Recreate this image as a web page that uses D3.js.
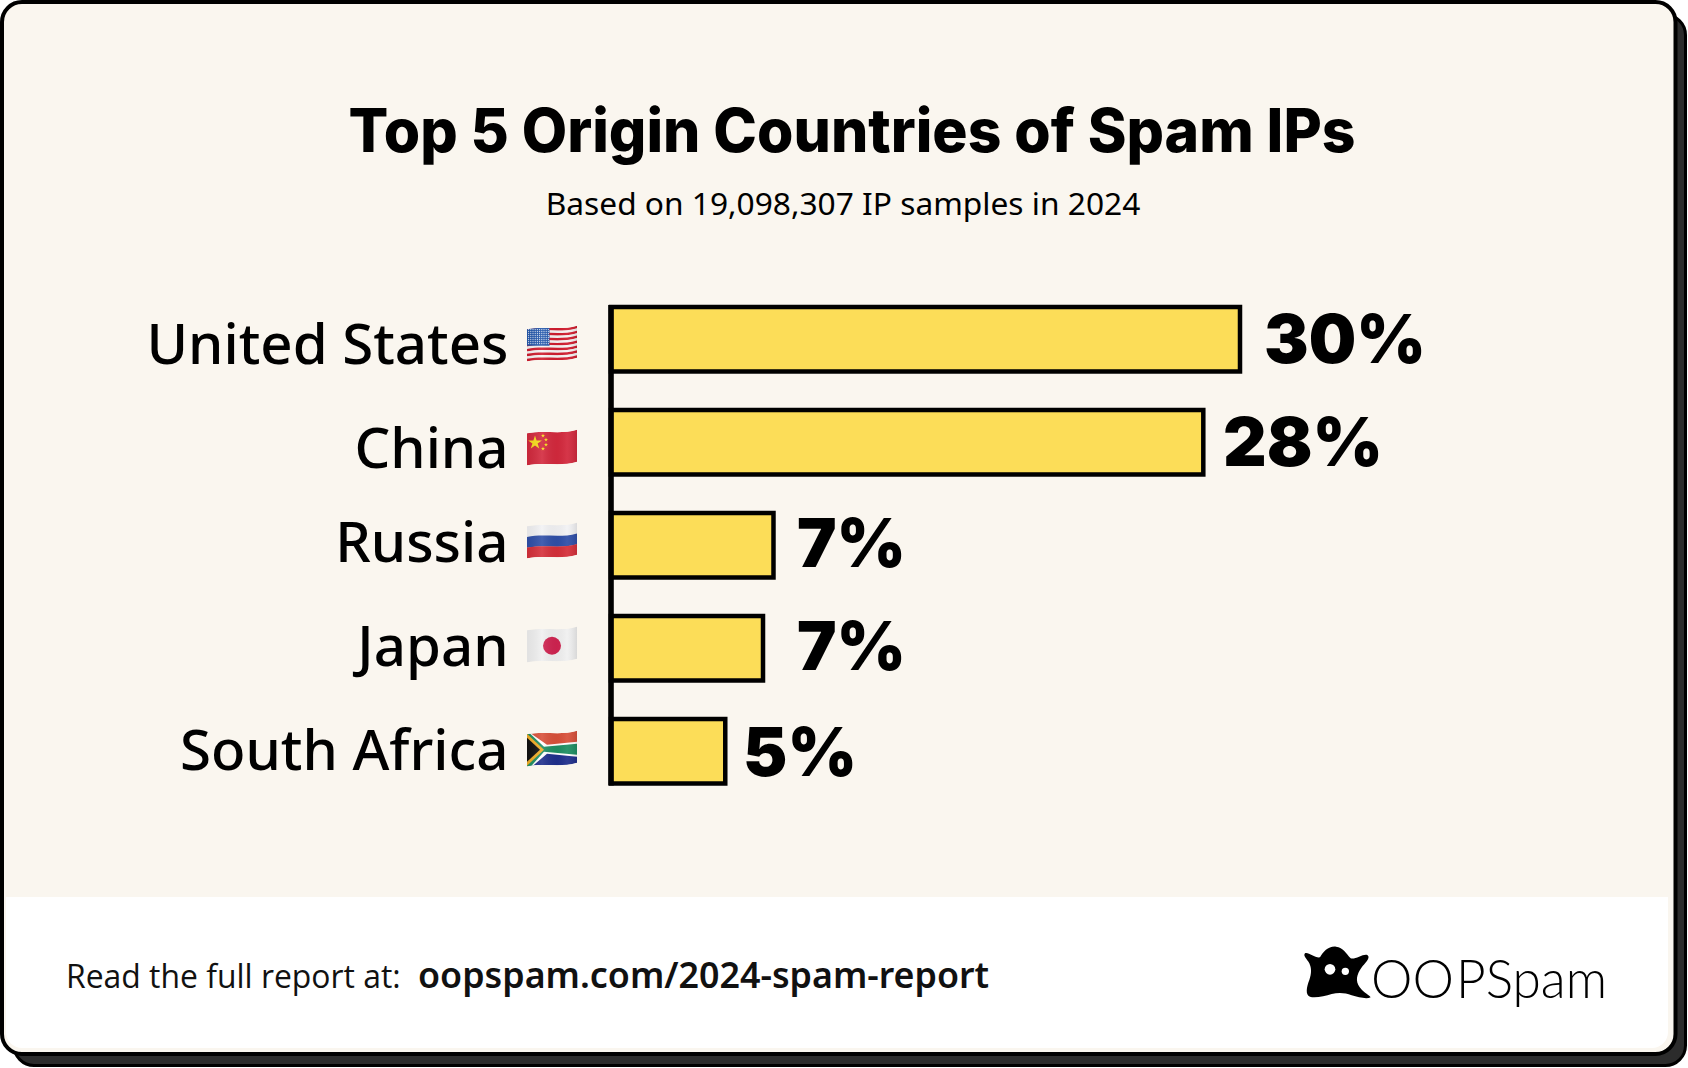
<!DOCTYPE html>
<html>
<head>
<meta charset="utf-8">
<script src="https://cdn.jsdelivr.net/npm/d3@7"></script>
<style>
  html, body { margin: 0; padding: 0; background: #fff; }
  svg { display: block; }
</style>
</head>
<body>
<svg id="chart" width="1688" height="1068"></svg>
<script>
const countries = ["United States", "China", "Russia", "Japan", "South Africa"];
const flagCodes = ["us", "cn", "ru", "jp", "za"];
const shares = [30, 28.25, 7.75, 7.25, 5.45];
const shareLabels = ["30%", "28%", "7%", "7%", "5%"];

const titleText = "Top 5 Origin Countries of Spam IPs";
const subtitleText = "Based on 19,098,307 IP samples in 2024";
const footerText = "Read the full report at:";
const footerLink = "oopspam.com/2024-spam-report";
const logoFirst = "OO";
const logoRest = "PSpam";

// the labels in the original are hand placed, so they need small nudges
const nameDy = [25, 26, 17, 18, 19];
const flagDy = [-13.5, -12.5, -22.5, -21.5, -20.5];
const valueDy = [24, 24, 22, 22, 25];
const valueX = [1264, 1223, 797, 797, 743];
const valueWidth = [162, 160, 109, 109, 114];

const INK = "#000";
const CREAM = "#faf6ef";
const YELLOW = "#fcdd58";

const svg = d3.select("#chart");
const defs = svg.append("defs");

/* card */
svg.append("rect").attr("x", 14).attr("y", 15).attr("width", 1671.5).attr("height", 1050.5)
    .attr("rx", 20).attr("fill", "#2c2c2c").attr("stroke", INK).attr("stroke-width", 3);
svg.append("rect").attr("x", 2).attr("y", 2).attr("width", 1673.5).attr("height", 1052)
    .attr("rx", 20).attr("fill", CREAM).attr("stroke", INK).attr("stroke-width", 4);
svg.append("path")
    .attr("d", "M6,897 H1668 V1032 a16,16 0 0 1 -16,16 H22 a16,16 0 0 1 -16,-16 Z")
    .attr("fill", "#fff");

/* headings */
svg.append("text").attr("x", 852).attr("y", 152)
    .attr("text-anchor", "middle")
    .attr("textLength", 1007).attr("lengthAdjust", "spacingAndGlyphs")
    .style("font", "800 60px Inter").text(titleText);
svg.append("text").attr("x", 843).attr("y", 215)
    .attr("text-anchor", "middle")
    .style("font", "400 31.7px 'Noto Sans'").text(subtitleText);

/* bars */
const x = d3.scaleLinear().domain([0, 30]).range([611, 1240]);
const y = d3.scaleBand().domain(countries).range([307, 783.5]).paddingInner(0.374);

svg.append("g").selectAll("rect")
    .data(countries)
    .join("rect")
    .attr("x", x(0))
    .attr("y", d => y(d))
    .attr("width", (d, i) => x(shares[i]) - x(0))
    .attr("height", y.bandwidth())
    .attr("fill", YELLOW)
    .attr("stroke", INK)
    .attr("stroke-width", 4.5);

svg.append("line")
    .attr("x1", x(0)).attr("x2", x(0))
    .attr("y1", y.range()[0] - 2).attr("y2", y.range()[1] + 2)
    .attr("stroke", INK).attr("stroke-width", 5.6);

svg.append("g").selectAll("text")
    .data(countries)
    .join("text")
    .attr("x", 508.5)
    .attr("y", (d, i) => y(d) + y.bandwidth() / 2 + nameDy[i])
    .attr("text-anchor", "end")
    .style("font", "500 56.4px 'Noto Sans'")
    .text(d => d);

svg.append("g").selectAll("text")
    .data(countries)
    .join("text")
    .attr("x", (d, i) => valueX[i])
    .attr("y", (d, i) => y(d) + y.bandwidth() / 2 + valueDy[i])
    .attr("textLength", (d, i) => valueWidth[i])
    .attr("lengthAdjust", "spacingAndGlyphs")
    .style("font", "900 68px Inter")
    .text((d, i) => shareLabels[i]);

/* flags, waving a bit like the emoji set */
const band = (a, b) => `M0,${a + 3.5} C17,${a} 33,${a + 5} 50,${a} L50,${b} C33,${b + 5} 17,${b} 0,${b + 3.5} Z`;
const FLAG_H = 32;

defs.append("clipPath").attr("id", "flagClip").append("path").attr("d", band(0, FLAG_H));
const shine = defs.append("linearGradient").attr("id", "flagShine");
[[0, "#000", 0.06], [0.3, "#fff", 0.1], [0.6, "#000", 0.03], [0.8, "#fff", 0.06], [1, "#000", 0.1]]
    .forEach(s => shine.append("stop").attr("offset", s[0]).attr("stop-color", s[1]).attr("stop-opacity", s[2]));

const stripes = (g, colors) => {
    const h = FLAG_H / colors.length;
    colors.forEach((c, i) => g.append("path").attr("d", band(i * h, (i + 1) * h + 0.2)).attr("fill", c));
};
const star = (g, cx, cy, r, fill) => {
    g.append("path").attr("transform", `translate(${cx},${cy})`)
        .attr("d", d3.symbol(d3.symbolStar, r * r * 3)()).attr("fill", fill);
};

const drawFlag = {
    us(g) {
        stripes(g, d3.range(13).map(i => (i % 2 ? "#f6f3f3" : "#d01c2e")));
        g.append("rect").attr("width", 22.5).attr("height", 20).attr("fill", "#2458ac");
        d3.range(8).forEach(r => d3.range(10).forEach(c => {
            g.append("circle").attr("cx", 1.6 + c * 2.2).attr("cy", 3.8 + r * 2)
                .attr("r", 0.6).attr("fill", "#e8eef8");
        }));
    },
    cn(g) {
        stripes(g, ["#d3293d"]);
        star(g, 8, 13, 4.4, "#f7dc1c");
        [[16, 6], [19, 10], [19, 15], [16, 19]].forEach(p => star(g, p[0], p[1], 1.3, "#f7dc1c"));
    },
    ru(g) {
        stripes(g, ["#f2f2f4", "#2f4fa8", "#d5303a"]);
    },
    jp(g) {
        stripes(g, ["#f0f0f0"]);
        g.append("circle").attr("cx", 25).attr("cy", 19).attr("r", 9).attr("fill", "#cf2350");
    },
    za(g) {
        stripes(g, ["#d8503a", "#1f2f8c"]);
        g.append("path").attr("d", "M0,0 L20,14 L50,11 L50,26 L20,23 L0,40 Z").attr("fill", "#fff");
        g.append("path").attr("d", "M0,0 L17,16 L50,13 L50,24 L17,21 L0,40 Z").attr("fill", "#1f8f63");
        g.append("path").attr("d", "M0,3 L17,19 L0,35 Z").attr("fill", "#f2ae27");
        g.append("path").attr("d", "M0,7 L13,19 L0,31 Z").attr("fill", "#111");
    }
};

countries.forEach((d, i) => {
    const g = svg.append("g")
        .attr("transform", `translate(527,${y(d) + y.bandwidth() / 2 + flagDy[i]})`);
    const inner = g.append("g").attr("clip-path", "url(#flagClip)");
    drawFlag[flagCodes[i]](inner);
    g.append("path").attr("d", band(0, FLAG_H)).attr("fill", "url(#flagShine)");
});

/* footer */
svg.append("text").attr("x", 66).attr("y", 988)
    .style("font", "400 31.9px 'Open Sans'").attr("fill", "#111").text(footerText);
svg.append("text").attr("x", 418).attr("y", 988)
    .style("font", "600 35.8px 'Noto Sans'").attr("fill", "#111").text(footerLink);

/* logo */
const logo = svg.append("g").attr("transform", "translate(1260,920) scale(0.3333)");
logo.append("path")
    .attr("d", "M135,100 C145,95 165,115 180,112 C190,95 205,78 228,80 C250,82 258,100 272,115 C285,120 310,100 322,105 C332,112 320,125 308,138 C295,155 285,175 295,195 C305,215 325,222 332,232 C320,238 295,232 275,226 C255,218 235,218 215,222 C195,228 165,235 150,230 C135,225 140,200 148,180 C155,160 155,145 148,130 C142,118 128,108 135,100 Z")
    .attr("fill", INK);
logo.append("circle").attr("cx", 210).attr("cy", 148).attr("r", 16).attr("fill", "#fff");
logo.append("circle").attr("cx", 256).attr("cy", 154).attr("r", 11).attr("fill", "#fff");
svg.append("text").attr("x", 1371).attr("y", 998)
    .attr("textLength", 83).attr("lengthAdjust", "spacingAndGlyphs")
    .style("font", "300 54px Lato").text(logoFirst);
svg.append("text").attr("x", 1456).attr("y", 998)
    .attr("textLength", 151).attr("lengthAdjust", "spacingAndGlyphs")
    .style("font", "300 54px Lato").text(logoRest);
</script>
</body>
</html>
